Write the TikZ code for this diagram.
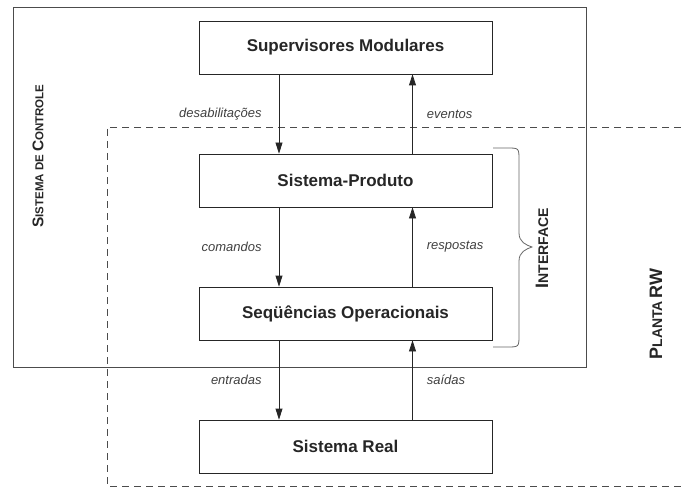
\documentclass[tikz,border=0pt]{standalone}
\usepackage{fontspec}
\setmainfont{Liberation Sans}
\usetikzlibrary{arrows.meta}

% fake small caps: big first letter, small rest
\def\capbigsz{16}
\def\capsmallsz{12}
\newcommand{\capbig}[1]{{\fontsize{\capbigsz}{\capbigsz}\selectfont #1}}
\newcommand{\capsmall}[1]{{\fontsize{\capsmallsz}{\capsmallsz}\selectfont #1}}

\begin{document}
\begin{tikzpicture}[x=1pt,y=-1pt,
    blk/.style={draw=black!85, line width=0.8pt, minimum width=293pt, minimum height=53pt,
        font=\fontsize{17}{17}\selectfont\bfseries, text=black!85},
    flow/.style={draw=black!85, line width=0.8pt, -{Triangle[length=11pt,width=7pt]}},
    lbl/.style={font=\fontsize{13}{13}\selectfont\itshape, text=black!75, inner sep=0pt},
    side/.style={rotate=90, text=black!85, inner sep=0pt,
        font=\bfseries\def\capbigsz{15.5}\def\capsmallsz{11.5}},
    sidebig/.style={side, font=\bfseries\def\capbigsz{18}\def\capsmallsz{14}}]
    \useasboundingbox (0,0) rectangle (681,487);
    % control system frame
    \draw[line width=1pt, black!70] (13,7.5) rectangle (586,367);
    % plant frame, cut by the right edge
    \draw[line width=0.8pt, black!70, dash pattern=on 7pt off 5pt]
        (681,127) -- (107,127) -- (107,486) -- (681,486);
    % boxes
    \foreach \n/\y/\t in {sup/47.5/Supervisores Modulares, sp/180.5/Sistema-Produto,
                          so/313.5/Seqüências Operacionais, sr/446.5/Sistema Real}
        \node[blk] (\n) at (345.5,\y) {\t};
    \coordinate (dn) at (279,0);
    \coordinate (up) at (412.5,0);
    % down = commands, up = answers
    \foreach \a/\b/\l/\r in {sup/sp/desabilitações/eventos, sp/so/comandos/respostas,
                             so/sr/entradas/saídas} {
        \draw[flow] (\a.south -| dn) -- node[lbl, left=17pt] {\l} (\b.north -| dn);
        \draw[flow] (\b.north -| up) -- node[lbl, right=14pt] {\r} (\a.south -| up);
    }
    % interface brace
    \draw[line width=0.8pt, black!60] (493,148) -- (507,148) .. controls (519,148) .. (519,160)
        -- (519,233) .. controls (519,242) and (526,245) .. (532,247)
        .. controls (526,249) and (519,252) .. (519,261)
        -- (519,335) .. controls (519,347) .. (507,347) -- (493,347);
    % side labels
    \node[side] (ctl) at (38,156) {\capbig{S}\capsmall{ISTEMA DE} \capbig{C}\capsmall{ONTROLE}};
    \node[sidebig] (itf) at (542,248) {\capbig{I}\capsmall{NTERFACE}};
    \node[sidebig] (rw) at (656,314) {\capbig{P}\capsmall{LANTA} \capbig{RW}};
\end{tikzpicture}
\end{document}
